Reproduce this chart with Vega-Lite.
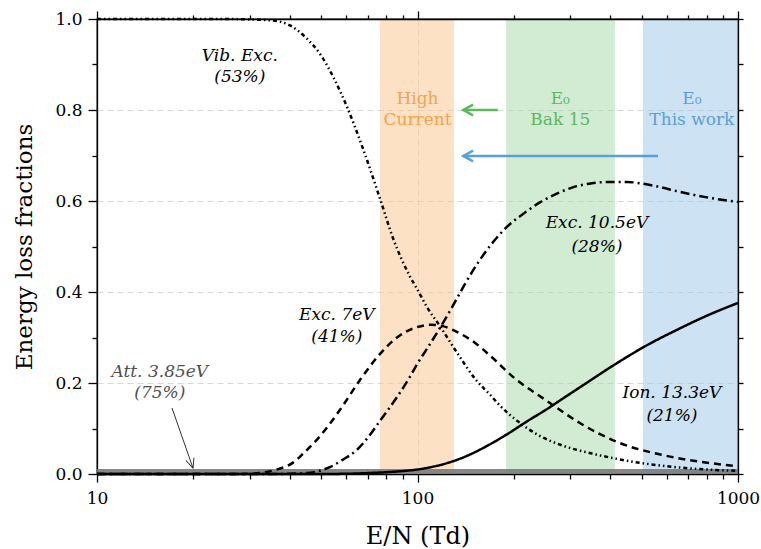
{
  "$schema": "https://vega.github.io/schema/vega-lite/v6.json",
  "width": 641,
  "height": 455,
  "autosize": {"type": "none"},
  "padding": {"left": 97, "top": 19, "right": 23, "bottom": 75},
  "background": "white",
  "config": {
    "view": {"stroke": "black", "strokeWidth": 1.3},
    "font": "DejaVu Serif",
    "axis": {
      "domainColor": "black", "domainWidth": 1.3, "tickColor": "black", "tickWidth": 1.3,
      "labelFont": "DejaVu Serif", "labelFontSize": 17, "labelColor": "black",
      "titleFont": "DejaVu Serif", "titleFontSize": 24, "titleFontWeight": "normal", "titleColor": "black",
      "labelFlush": false, "labelOverlap": false
    }
  },
  "datasets": {
    "bands": [
      {"name": "High Current", "start": 76.4, "end": 130},
      {"name": "Bak 15", "start": 189, "end": 413},
      {"name": "This work", "start": 505, "end": 1000}
    ],
    "att": [
      {"x": 10, "frac": 0.011},
      {"x": 1000, "frac": 0.011}
    ],
    "curves": [
      {"series": "Vib", "x": 10, "frac": 1.0},
      {"series": "Vib", "x": 20, "frac": 1.0},
      {"series": "Vib", "x": 25, "frac": 1.0},
      {"series": "Vib", "x": 30, "frac": 0.999},
      {"series": "Vib", "x": 35, "frac": 0.997},
      {"series": "Vib", "x": 40, "frac": 0.986},
      {"series": "Vib", "x": 45, "frac": 0.958},
      {"series": "Vib", "x": 50, "frac": 0.92},
      {"series": "Vib", "x": 55, "frac": 0.868},
      {"series": "Vib", "x": 60, "frac": 0.81},
      {"series": "Vib", "x": 67.6, "frac": 0.715},
      {"series": "Vib", "x": 76.4, "frac": 0.605},
      {"series": "Vib", "x": 84, "frac": 0.517},
      {"series": "Vib", "x": 94.6, "frac": 0.435},
      {"series": "Vib", "x": 100, "frac": 0.405},
      {"series": "Vib", "x": 107, "frac": 0.367},
      {"series": "Vib", "x": 117.5, "frac": 0.325},
      {"series": "Vib", "x": 133, "frac": 0.266},
      {"series": "Vib", "x": 153, "frac": 0.205},
      {"series": "Vib", "x": 168, "frac": 0.175},
      {"series": "Vib", "x": 181, "frac": 0.15},
      {"series": "Vib", "x": 209, "frac": 0.112},
      {"series": "Vib", "x": 236, "frac": 0.087},
      {"series": "Vib", "x": 285, "frac": 0.062},
      {"series": "Vib", "x": 350, "frac": 0.045},
      {"series": "Vib", "x": 407, "frac": 0.035},
      {"series": "Vib", "x": 500, "frac": 0.024},
      {"series": "Vib", "x": 600, "frac": 0.017},
      {"series": "Vib", "x": 750, "frac": 0.011},
      {"series": "Vib", "x": 1000, "frac": 0.007},
      {"series": "Exc7", "x": 10, "frac": 0},
      {"series": "Exc7", "x": 25, "frac": 0},
      {"series": "Exc7", "x": 30, "frac": 0.0005},
      {"series": "Exc7", "x": 33, "frac": 0.003},
      {"series": "Exc7", "x": 36, "frac": 0.009},
      {"series": "Exc7", "x": 40.9, "frac": 0.025},
      {"series": "Exc7", "x": 44, "frac": 0.045},
      {"series": "Exc7", "x": 48.5, "frac": 0.075},
      {"series": "Exc7", "x": 57.3, "frac": 0.141},
      {"series": "Exc7", "x": 66.2, "frac": 0.207},
      {"series": "Exc7", "x": 76.4, "frac": 0.264},
      {"series": "Exc7", "x": 86.3, "frac": 0.3},
      {"series": "Exc7", "x": 100, "frac": 0.323},
      {"series": "Exc7", "x": 110, "frac": 0.328},
      {"series": "Exc7", "x": 120, "frac": 0.325},
      {"series": "Exc7", "x": 133, "frac": 0.312},
      {"series": "Exc7", "x": 150, "frac": 0.29},
      {"series": "Exc7", "x": 168, "frac": 0.261},
      {"series": "Exc7", "x": 199, "frac": 0.213},
      {"series": "Exc7", "x": 253, "frac": 0.161},
      {"series": "Exc7", "x": 321, "frac": 0.112},
      {"series": "Exc7", "x": 428, "frac": 0.068},
      {"series": "Exc7", "x": 571, "frac": 0.043},
      {"series": "Exc7", "x": 761, "frac": 0.027},
      {"series": "Exc7", "x": 1000, "frac": 0.017},
      {"series": "Exc10", "x": 10, "frac": 0},
      {"series": "Exc10", "x": 35, "frac": 0},
      {"series": "Exc10", "x": 40, "frac": 0.0005},
      {"series": "Exc10", "x": 46.3, "frac": 0.003},
      {"series": "Exc10", "x": 50, "frac": 0.008},
      {"series": "Exc10", "x": 53.3, "frac": 0.015},
      {"series": "Exc10", "x": 58, "frac": 0.03},
      {"series": "Exc10", "x": 64.7, "frac": 0.053},
      {"series": "Exc10", "x": 70, "frac": 0.08},
      {"series": "Exc10", "x": 76.4, "frac": 0.117},
      {"series": "Exc10", "x": 86.3, "frac": 0.169},
      {"series": "Exc10", "x": 94.6, "frac": 0.213},
      {"series": "Exc10", "x": 100, "frac": 0.243},
      {"series": "Exc10", "x": 107, "frac": 0.275},
      {"series": "Exc10", "x": 117.5, "frac": 0.321},
      {"series": "Exc10", "x": 129, "frac": 0.37},
      {"series": "Exc10", "x": 140, "frac": 0.415},
      {"series": "Exc10", "x": 153, "frac": 0.46},
      {"series": "Exc10", "x": 170, "frac": 0.505},
      {"series": "Exc10", "x": 190, "frac": 0.543},
      {"series": "Exc10", "x": 215, "frac": 0.573},
      {"series": "Exc10", "x": 241, "frac": 0.597},
      {"series": "Exc10", "x": 270, "frac": 0.615},
      {"series": "Exc10", "x": 305, "frac": 0.63},
      {"series": "Exc10", "x": 350, "frac": 0.639},
      {"series": "Exc10", "x": 400, "frac": 0.642},
      {"series": "Exc10", "x": 450, "frac": 0.642},
      {"series": "Exc10", "x": 494, "frac": 0.639},
      {"series": "Exc10", "x": 560, "frac": 0.632},
      {"series": "Exc10", "x": 659, "frac": 0.62},
      {"series": "Exc10", "x": 800, "frac": 0.608},
      {"series": "Exc10", "x": 1000, "frac": 0.598},
      {"series": "Ion", "x": 10, "frac": 0},
      {"series": "Ion", "x": 50, "frac": 0},
      {"series": "Ion", "x": 60, "frac": 0.0005},
      {"series": "Ion", "x": 70, "frac": 0.002},
      {"series": "Ion", "x": 80, "frac": 0.004},
      {"series": "Ion", "x": 90, "frac": 0.0065},
      {"series": "Ion", "x": 100, "frac": 0.01},
      {"series": "Ion", "x": 115, "frac": 0.018},
      {"series": "Ion", "x": 129, "frac": 0.028},
      {"series": "Ion", "x": 146, "frac": 0.043},
      {"series": "Ion", "x": 165, "frac": 0.062},
      {"series": "Ion", "x": 190, "frac": 0.087},
      {"series": "Ion", "x": 220, "frac": 0.116},
      {"series": "Ion", "x": 250, "frac": 0.14},
      {"series": "Ion", "x": 290, "frac": 0.17},
      {"series": "Ion", "x": 330, "frac": 0.196},
      {"series": "Ion", "x": 407, "frac": 0.238},
      {"series": "Ion", "x": 520, "frac": 0.283},
      {"series": "Ion", "x": 650, "frac": 0.318},
      {"series": "Ion", "x": 800, "frac": 0.348},
      {"series": "Ion", "x": 1000, "frac": 0.376}
    ],
    "labels": [
      {"x": 27.9, "y": 0.919, "text": "Vib. Exc."},
      {"x": 27.9, "y": 0.873, "text": "(53%)"},
      {"x": 56, "y": 0.349, "text": "Exc. 7eV"},
      {"x": 56, "y": 0.301, "text": "(41%)"},
      {"x": 363, "y": 0.551, "text": "Exc. 10.5eV"},
      {"x": 363, "y": 0.499, "text": "(28%)"},
      {"x": 622, "y": 0.178, "text": "Ion. 13.3eV"},
      {"x": 622, "y": 0.127, "text": "(21%)"}
    ],
    "attlabels": [
      {"x": 15.7, "y": 0.225, "text": "Att. 3.85eV"},
      {"x": 15.7, "y": 0.178, "text": "(75%)"}
    ],
    "bandlabels": [
      {"name": "High Current", "x": 100, "y": 0.824, "text": "High"},
      {"name": "High Current", "x": 100, "y": 0.778, "text": "Current"},
      {"name": "Bak 15", "x": 279, "y": 0.824, "text": "E₀"},
      {"name": "Bak 15", "x": 279, "y": 0.778, "text": "Bak 15"},
      {"name": "This work", "x": 718, "y": 0.824, "text": "E₀"},
      {"name": "This work", "x": 718, "y": 0.778, "text": "This work"}
    ],
    "arrows": [
      {"name": "Bak 15", "x": 178, "x2": 139, "y": 0.8, "y2": 0.8},
      {"name": "This work", "x": 563, "x2": 139, "y": 0.699, "y2": 0.699}
    ],
    "attarrow": [
      {"x": 17.14, "x2": 19.93, "y": 0.145, "y2": 0.013}
    ]
  },
  "resolve": {"axis": {"x": "independent", "y": "independent"}, "scale": {"color": "independent"}},
  "layer": [
    {
      "data": {"name": "bands"},
      "mark": {"type": "rect", "opacity": 0.5},
      "encoding": {
        "x": {"field": "start", "type": "quantitative", "scale": {"type": "log", "domain": [10, 1000], "nice": false}, "axis": null},
        "x2": {"field": "end"},
        "color": {"field": "name", "type": "nominal", "scale": {"domain": ["High Current", "Bak 15", "This work"], "range": ["#fbc38b", "#a5d7a7", "#9bc5e5"]}, "legend": null}
      }
    },
    {
      "data": {"name": "att"},
      "mark": {"type": "area", "color": "#7a7a7a", "opacity": 0.9},
      "encoding": {
        "x": {"field": "x", "type": "quantitative", "scale": {"type": "log", "domain": [10, 1000], "nice": false},
          "axis": {"orient": "top", "zindex": 1, "values": [10,20,30,40,50,60,70,80,90,100,200,300,400,500,600,700,800,900,1000], "labels": false, "title": null, "grid": false,
            "tickSize": {"condition": {"test": "indexof([10,100,1000], datum.value) >= 0", "value": 8}, "value": 4}}},
        "y": {"field": "frac", "type": "quantitative", "scale": {"domain": [0, 1], "nice": false},
          "axis": {"orient": "right", "zindex": 1, "values": [0,0.1,0.2,0.3,0.4,0.5,0.6,0.7,0.8,0.9,1.0], "labels": false, "title": null, "grid": false, "tickSize": 5}}
      }
    },
    {
      "data": {"name": "curves"},
      "mark": {"type": "line", "color": "black", "strokeWidth": 2.5, "interpolate": "monotone", "strokeCap": "butt"},
      "encoding": {
        "x": {"field": "x", "type": "quantitative", "scale": {"type": "log", "domain": [10, 1000], "nice": false},
          "axis": {"orient": "bottom", "zindex": 0, "values": [10,20,30,40,50,60,70,80,90,100,200,300,400,500,600,700,800,900,1000],
            "labelExpr": "indexof([10,100,1000], datum.value) >= 0 ? datum.value + '' : ''",
            "tickSize": {"condition": {"test": "indexof([10,100,1000], datum.value) >= 0", "value": 8}, "value": 5},
            "title": "E/N (Td)", "labelPadding": 8, "titlePadding": 18,
            "grid": true, "gridColor": "#d8d8d8", "gridDash": [6, 4], "gridWidth": 1,
            "gridOpacity": {"condition": {"test": "datum.value == 100", "value": 1}, "value": 0}}},
        "y": {"field": "frac", "type": "quantitative", "scale": {"domain": [0, 1], "nice": false},
          "axis": {"orient": "left", "zindex": 0, "values": [0,0.1,0.2,0.3,0.4,0.5,0.6,0.7,0.8,0.9,1.0],
            "labelExpr": "abs(datum.value*5 - round(datum.value*5)) < 0.001 ? format(datum.value, '.1f') : ''",
            "tickSize": {"condition": {"test": "abs(datum.value*5 - round(datum.value*5)) < 0.001", "value": 9}, "value": 5},
            "title": "Energy loss fractions", "titleFontSize": 23, "labelPadding": 6, "titlePadding": 18,
            "grid": true, "gridColor": "#d8d8d8", "gridDash": [6, 4], "gridWidth": 1,
            "gridOpacity": {"condition": {"test": "abs(datum.value*5 - round(datum.value*5)) < 0.001 && datum.value > 0.05 && datum.value < 0.95", "value": 1}, "value": 0}}},
        "detail": {"field": "series"},
        "strokeDash": {"field": "series", "type": "nominal", "scale": {"domain": ["Vib", "Exc7", "Exc10", "Ion"], "range": [[4, 3, 1.5, 3, 1.5, 3], [7, 5], [9, 4, 2, 4], [1, 0]]}, "legend": null}
      }
    },
    {
      "data": {"name": "labels"},
      "mark": {"type": "text", "font": "DejaVu Serif", "fontStyle": "italic", "fontSize": 17, "color": "black", "baseline": "middle", "align": "center"},
      "encoding": {
        "x": {"field": "x", "type": "quantitative", "axis": null},
        "y": {"field": "y", "type": "quantitative", "axis": null},
        "text": {"field": "text"}
      }
    },
    {
      "data": {"name": "attlabels"},
      "mark": {"type": "text", "font": "DejaVu Serif", "fontStyle": "italic", "fontSize": 17, "color": "#505050", "baseline": "middle", "align": "center"},
      "encoding": {
        "x": {"field": "x", "type": "quantitative", "axis": null},
        "y": {"field": "y", "type": "quantitative", "axis": null},
        "text": {"field": "text"}
      }
    },
    {
      "data": {"name": "bandlabels"},
      "mark": {"type": "text", "font": "DejaVu Serif", "fontSize": 17, "baseline": "middle", "align": "center"},
      "encoding": {
        "x": {"field": "x", "type": "quantitative", "axis": null},
        "y": {"field": "y", "type": "quantitative", "axis": null},
        "text": {"field": "text"},
        "color": {"field": "name", "type": "nominal", "scale": {"domain": ["High Current", "Bak 15", "This work"], "range": ["#f7a24b", "#5cb85c", "#5b9fd9"]}, "legend": null}
      }
    },
    {
      "data": {"name": "arrows"},
      "mark": {"type": "rule", "strokeWidth": 2.5},
      "encoding": {
        "x": {"field": "x", "type": "quantitative", "axis": null},
        "x2": {"field": "x2"},
        "y": {"field": "y", "type": "quantitative", "axis": null},
        "y2": {"field": "y2"},
        "color": {"field": "name", "type": "nominal", "scale": {"domain": ["High Current", "Bak 15", "This work"], "range": ["#f7a24b", "#5cb85c", "#5b9fd9"]}, "legend": null}
      }
    },
    {
      "data": {"name": "arrows"},
      "mark": {"type": "point", "shape": "M 1 -0.55 L 0 0 L 1 0.55", "filled": false, "size": 380, "strokeWidth": 2.5, "opacity": 1},
      "encoding": {
        "x": {"field": "x2", "type": "quantitative", "axis": null},
        "y": {"field": "y2", "type": "quantitative", "axis": null},
        "color": {"field": "name", "type": "nominal", "scale": {"domain": ["High Current", "Bak 15", "This work"], "range": ["#f7a24b", "#5cb85c", "#5b9fd9"]}, "legend": null}
      }
    },
    {
      "data": {"name": "attarrow"},
      "mark": {"type": "rule", "strokeWidth": 1, "color": "#333333"},
      "encoding": {
        "x": {"field": "x", "type": "quantitative", "axis": null},
        "x2": {"field": "x2"},
        "y": {"field": "y", "type": "quantitative", "axis": null},
        "y2": {"field": "y2"}
      }
    },
    {
      "data": {"name": "attarrow"},
      "mark": {"type": "point", "shape": "M 1 -0.45 L 0 0 L 1 0.45", "filled": false, "size": 360, "strokeWidth": 1, "color": "#333333", "opacity": 1, "angle": 251},
      "encoding": {
        "x": {"field": "x2", "type": "quantitative", "axis": null},
        "y": {"field": "y2", "type": "quantitative", "axis": null}
      }
    }
  ]
}
